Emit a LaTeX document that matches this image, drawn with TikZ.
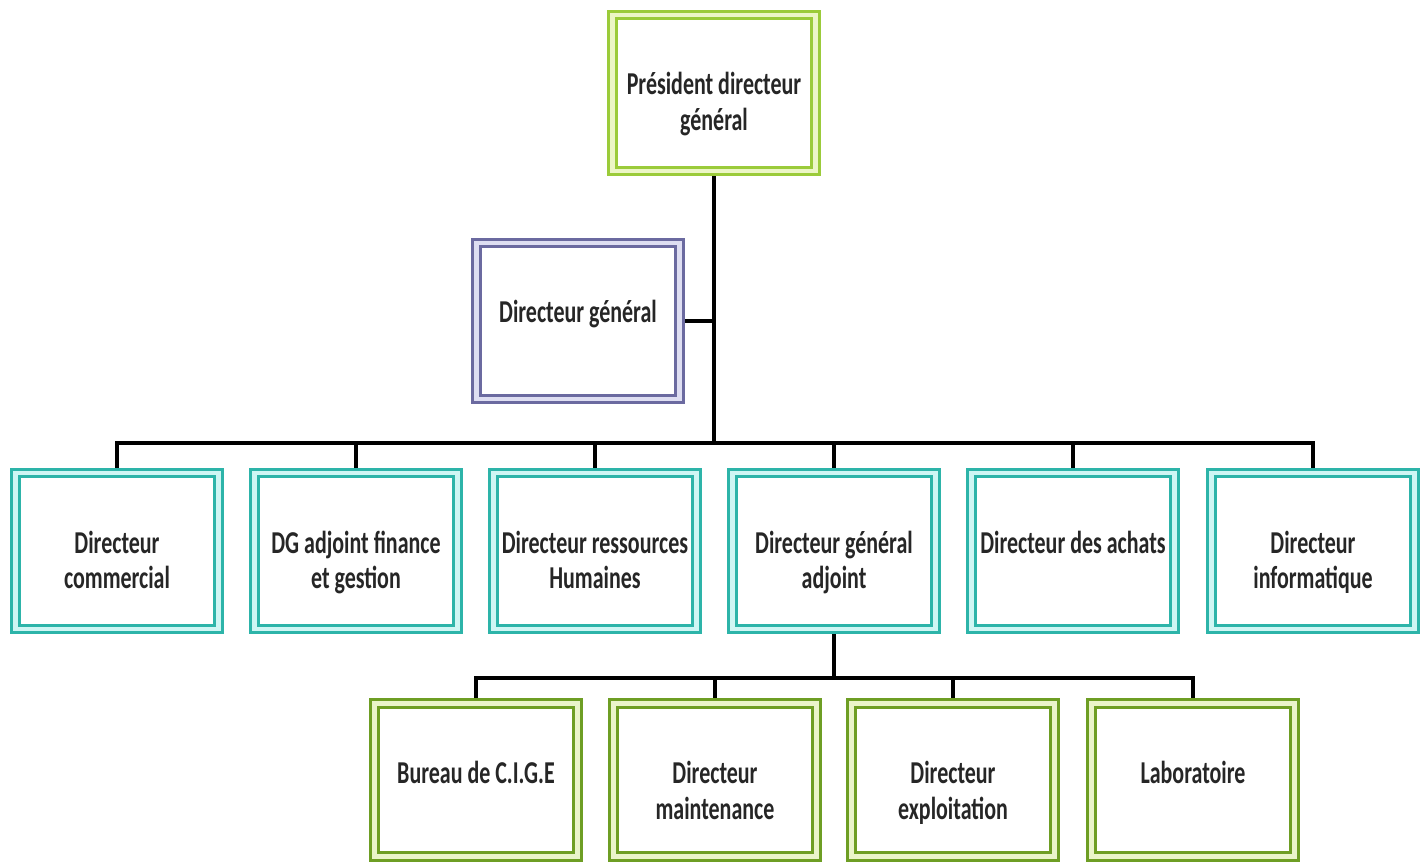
\documentclass[tikz,border=0pt]{standalone}
\usepackage{fontspec}
\setmainfont{Carlito}
\usepackage{graphicx}
\usetikzlibrary{backgrounds}

\definecolor{pdgline}{HTML}{9BCB3A}
\definecolor{pdgband}{HTML}{ECF6C6}
\definecolor{dgline}{HTML}{6B6AA0}
\definecolor{dgband}{HTML}{DEDEF2}
\definecolor{dirline}{HTML}{2DB4A9}
\definecolor{dirband}{HTML}{CFF6F4}
\definecolor{subline}{HTML}{6E9E24}
\definecolor{subband}{HTML}{EAF4CA}

% tall, centred label lines
\newcommand{\orgtext}[1]{\scalebox{1}[1.45]{\begin{tabular}[t]{@{}c@{}}#1\end{tabular}}}

\begin{document}
\begin{tikzpicture}[
  x=0.02cm, y=-0.02cm,
  every node/.style={font=\fontsize{12.5}{14}\selectfont\bfseries, text=black!85},
  orgbox/.style 2 args={draw=#1, line width=1.9pt, double=#2, double distance=2.4pt,
                        fill=white, inner sep=0pt, minimum width=4.06cm,
                        text height=1.6cm, text depth=1.52cm},
  link/.style={draw=black, line width=2.1pt, line cap=rect},
]
\useasboundingbox (0,0) rectangle (1426,864);

% ── Top ──
\node[orgbox={pdgline}{pdgband}] (pdg) at (714,93)
  {\orgtext{Président directeur\\général}};
\node[orgbox={dgline}{dgband}] (dg) at (578,321)
  {\orgtext{Directeur général}};

% ── Directors ──
\node[orgbox={dirline}{dirband}] (com)  at (117,551)  {\orgtext{Directeur\\commercial}};
\node[orgbox={dirline}{dirband}] (dgf)  at (356,551)  {\orgtext{DG adjoint finance\\et gestion}};
\node[orgbox={dirline}{dirband}] (drh)  at (595,551)  {\orgtext{Directeur ressources\\Humaines}};
\node[orgbox={dirline}{dirband}] (dga)  at (834,551)  {\orgtext{Directeur général\\adjoint}};
\node[orgbox={dirline}{dirband}] (ach)  at (1073,551) {\orgtext{Directeur des achats}};
\node[orgbox={dirline}{dirband}] (info) at (1313,551) {\orgtext{Directeur\\informatique}};

% ── Under the DGA ──
\node[orgbox={subline}{subband}, text depth=1.46cm] (cige)  at (476,780)  {\orgtext{Bureau de C.I.G.E}};
\node[orgbox={subline}{subband}, text depth=1.46cm] (maint) at (715,780)  {\orgtext{Directeur\\maintenance}};
\node[orgbox={subline}{subband}, text depth=1.46cm] (expl)  at (953,780)  {\orgtext{Directeur\\exploitation}};
\node[orgbox={subline}{subband}, text depth=1.46cm] (labo)  at (1193,780) {\orgtext{Laboratoire}};

% ── Links ──
\coordinate (bus) at (714,443);
\coordinate (subbus) at (834,678);
\begin{scope}[on background layer]
  \draw[link] (pdg.south) -- (pdg.south |- bus);
  \draw[link] (dg.east) -- (dg.east -| pdg.south);
  \draw[link] (com.north |- bus) -- (info.north |- bus);
  \foreach \n in {com,dgf,drh,dga,ach,info}
    \draw[link] (\n.north |- bus) -- (\n.north);
  \draw[link] (dga.south) -- (dga.south |- subbus);
  \draw[link] (cige.north |- subbus) -- (labo.north |- subbus);
  \foreach \n in {cige,maint,expl,labo}
    \draw[link] (\n.north |- subbus) -- (\n.north);
\end{scope}

\end{tikzpicture}
\end{document}
